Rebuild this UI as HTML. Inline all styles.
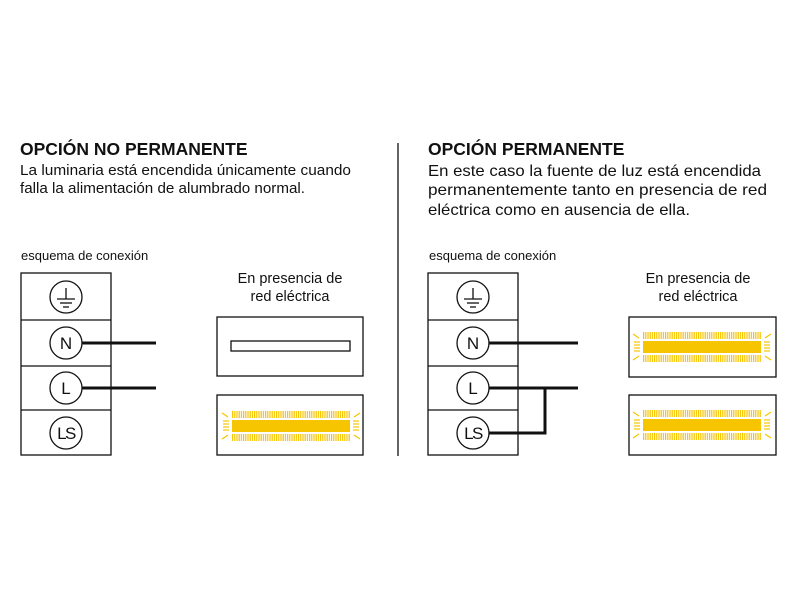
<!DOCTYPE html>
<html><head><meta charset="utf-8"><style>body{margin:0;background:#fff}svg{display:block}text{font-family:"Liberation Sans",Arial,sans-serif;fill:#111}</style></head>
<body>
<svg width="800" height="600" viewBox="0 0 800 600" xmlns="http://www.w3.org/2000/svg">
<defs>
<pattern id="ray" width="2.2" height="10" patternUnits="userSpaceOnUse"><rect width="1.2" height="10" fill="#f7c400"/></pattern>
<g id="lamp">
<rect x="0" y="-6" width="118" height="12" fill="#f7c400"/>
<rect x="0" y="-15" width="118" height="7" fill="url(#ray)"/>
<rect x="0" y="8" width="118" height="7" fill="url(#ray)"/>
<g stroke="#f7c400" stroke-width="1.2">
<line x1="-3" y1="-5" x2="-9" y2="-5"/><line x1="-3" y1="-2" x2="-9" y2="-2"/><line x1="-3" y1="1" x2="-9" y2="1"/><line x1="-3" y1="4" x2="-9" y2="4"/>
<line x1="-4" y1="-9" x2="-10" y2="-13"/><line x1="-4" y1="9" x2="-10" y2="13"/>
<line x1="121" y1="-5" x2="127" y2="-5"/><line x1="121" y1="-2" x2="127" y2="-2"/><line x1="121" y1="1" x2="127" y2="1"/><line x1="121" y1="4" x2="127" y2="4"/>
<line x1="122" y1="-9" x2="128" y2="-13"/><line x1="122" y1="9" x2="128" y2="13"/>
</g>
</g>
<g id="term" fill="none" stroke="#111" stroke-width="1.3">
<rect x="0" y="0" width="90" height="182"/>
<line x1="0" y1="47" x2="90" y2="47"/><line x1="0" y1="93" x2="90" y2="93"/><line x1="0" y1="137" x2="90" y2="137"/>
<circle cx="45" cy="24" r="16"/><circle cx="45" cy="70" r="16"/><circle cx="45" cy="115" r="16"/><circle cx="45" cy="160" r="16"/>
<line x1="45" y1="15" x2="45" y2="26"/><line x1="36" y1="26" x2="54" y2="26"/><line x1="39" y1="30" x2="51" y2="30"/><line x1="42" y1="34" x2="48" y2="34"/>
</g>
</defs>

<text x="20" y="155" font-size="17.5" font-weight="bold">OPCIÓN NO PERMANENTE</text>
<text x="20" y="175" font-size="15" textLength="331" lengthAdjust="spacingAndGlyphs">La luminaria está encendida únicamente cuando</text>
<text x="20" y="193" font-size="15" textLength="285" lengthAdjust="spacingAndGlyphs">falla la alimentación de alumbrado normal.</text>

<text x="428" y="155" font-size="17.5" font-weight="bold">OPCIÓN PERMANENTE</text>
<text x="428" y="176" font-size="16" textLength="333" lengthAdjust="spacingAndGlyphs">En este caso la fuente de luz está encendida</text>
<text x="428" y="195" font-size="16" textLength="339" lengthAdjust="spacingAndGlyphs">permanentemente tanto en presencia de red</text>
<text x="428" y="215" font-size="16" textLength="262" lengthAdjust="spacingAndGlyphs">eléctrica como en ausencia de ella.</text>

<line x1="398" y1="143" x2="398" y2="456" stroke="#111" stroke-width="1.3"/>

<text x="21" y="260" font-size="13">esquema de conexión</text>
<text x="429" y="260" font-size="13">esquema de conexión</text>

<text x="290" y="283" font-size="14.5" text-anchor="middle">En presencia de</text>
<text x="290" y="301" font-size="14.5" text-anchor="middle">red eléctrica</text>
<text x="698" y="283" font-size="14.5" text-anchor="middle">En presencia de</text>
<text x="698" y="301" font-size="14.5" text-anchor="middle">red eléctrica</text>

<use href="#term" x="21" y="273"/>
<use href="#term" x="428" y="273"/>
<g font-size="17" text-anchor="middle">
<text x="66" y="349">N</text><text x="66" y="394">L</text><text x="66" y="439" letter-spacing="-1.5">LS</text>
<text x="473" y="349">N</text><text x="473" y="394">L</text><text x="473" y="439" letter-spacing="-1.5">LS</text>
</g>
<g stroke="#111" stroke-width="3" fill="none">
<line x1="82" y1="343" x2="156" y2="343"/><line x1="82" y1="388" x2="156" y2="388"/>
<line x1="489" y1="343" x2="578" y2="343"/><line x1="489" y1="388" x2="578" y2="388"/>
<polyline points="489,433 545,433 545,388"/>
</g>

<g fill="none" stroke="#111" stroke-width="1.3">
<rect x="217" y="317" width="146" height="59"/>
<rect x="231" y="341" width="119" height="10"/>
<rect x="217" y="395" width="146" height="60"/>
<rect x="629" y="317" width="147" height="60"/>
<rect x="629" y="395" width="147" height="60"/>
</g>
<use href="#lamp" x="232" y="426"/>
<use href="#lamp" x="643" y="347"/>
<use href="#lamp" x="643" y="425"/>
</svg>
</body></html>
